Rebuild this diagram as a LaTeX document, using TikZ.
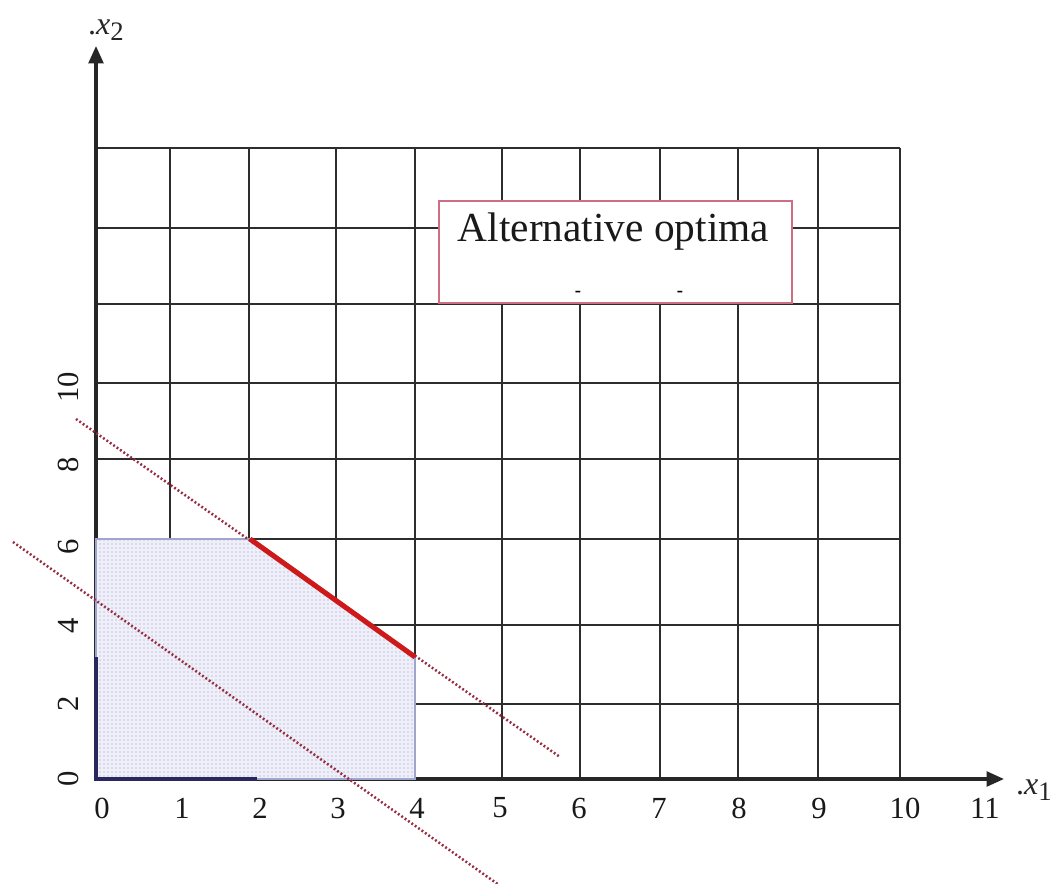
\documentclass[tikz,border=0pt]{standalone}
\usepackage{fontspec}
\setmainfont{Liberation Serif}
\usetikzlibrary{patterns,arrows.meta}
\definecolor{gridc}{RGB}{45,45,45}
\definecolor{regfill}{RGB}{238,239,248}
\definecolor{dotc}{RGB}{150,155,190}
\definecolor{regborder}{RGB}{160,165,205}
\definecolor{navy}{RGB}{40,40,95}
\definecolor{optred}{RGB}{205,25,25}
\definecolor{objred}{RGB}{150,45,65}
\definecolor{boxc}{RGB}{205,110,130}
\tikzset{
  gridline/.style={draw=gridc, line width=1.3pt},
  axisline/.style={draw=black!85, line width=2.4pt, -{Triangle[length=13pt,width=11pt]}},
  regionpath/.style={draw=regborder, line width=1.2pt},
  navyseg/.style={draw=navy, line width=2.6pt},
  optseg/.style={draw=optred, line width=3.8pt},
  objline/.style={draw=objred, line width=1.9pt, dash pattern=on 1.4pt off 1.7pt},
  ticklbl/.style={font=\fontsize{23}{23}\selectfont, text=black!90, inner sep=0pt},
  axlbl/.style={font=\fontsize{24}{24}\selectfont, text=black!85, inner sep=0pt},
  titlebox/.style={draw=boxc, fill=white, line width=1.1pt},
}
\begin{document}
\begin{tikzpicture}[x=0.75pt,y=-0.75pt]
\useasboundingbox (0,0) rectangle (1064,884);
\fill[white] (0,0) rectangle (1064,884);
% grid
\foreach \x in {96,170,249,336,415,502,580,660,738,818,900}
  \draw[gridline] (\x,148) -- (\x,779);
\foreach \y in {148,228,304,383,459,539,625,704}
  \draw[gridline] (96,\y) -- (900,\y);
% axes
\coordinate (O) at (96,779);
\coordinate (xtip) at (1004,779);
\coordinate (ytip) at (96,46);
\draw[axisline] (O) -- (xtip);
\draw[axisline] (O) -- (ytip);
% feasible region
\coordinate (A) at (415,779);
\coordinate (B) at (415,657);
\coordinate (C) at (250,539);
\coordinate (D) at (96,539);
\fill[regfill] (O) -- (A) -- (B) -- (C) -- (D) -- cycle;
\path[pattern=dots, pattern color=dotc] (O) -- (A) -- (B) -- (C) -- (D) -- cycle;
\draw[regionpath] (O) -- (A) -- (B) -- (C) -- (D) -- cycle;
\coordinate (nx) at (257,779);
\coordinate (ny) at (96,657);
\draw[navyseg] (nx) -- (O) -- (ny);
% objective lines
\coordinate (u1) at (76,419);
\coordinate (u2) at (560,757);
\coordinate (l1) at (13,542);
\coordinate (l2) at (499,885);
\draw[objline] (u1) -- (u2);
\draw[objline] (l1) -- (l2);
% alternative optima segment
\draw[optseg] (C) -- (B);
% label box
\draw[titlebox] (439,201) rectangle (792,303);
\node[font=\fontsize{31}{31}\selectfont, text=black!90, inner sep=0pt, anchor=base] (title) at (613.5,242) {Alternative optima};
\node[font=\fontsize{14}{14}\selectfont\bfseries, inner sep=0pt] (dash1) at (578,294) {-};
\node[font=\fontsize{14}{14}\selectfont\bfseries, inner sep=0pt] (dash2) at (680,294) {-};
% x tick labels
\foreach \v/\px in {0/102,1/182,2/260,3/338,4/417,5/500,6/579,7/659,8/739,9/819,10/905,11/985}
  \node[ticklbl] (xt\v) at (\px,808) {\v};
% y tick labels
\foreach \v/\py in {0/779,2/704,4/626,6/547,8/465,10/387}
  \node[ticklbl, rotate=90] (yt\v) at (68,\py) {\v};
% axis labels
\node[axlbl] (x2lbl) at (106,30) {.\textit{x}\raisebox{-0.45ex}{\fontsize{20}{20}\selectfont 2}};
\node[axlbl] (x1lbl) at (1034,790) {.\textit{x}\raisebox{-0.45ex}{\fontsize{20}{20}\selectfont 1}};
\end{tikzpicture}
\end{document}
